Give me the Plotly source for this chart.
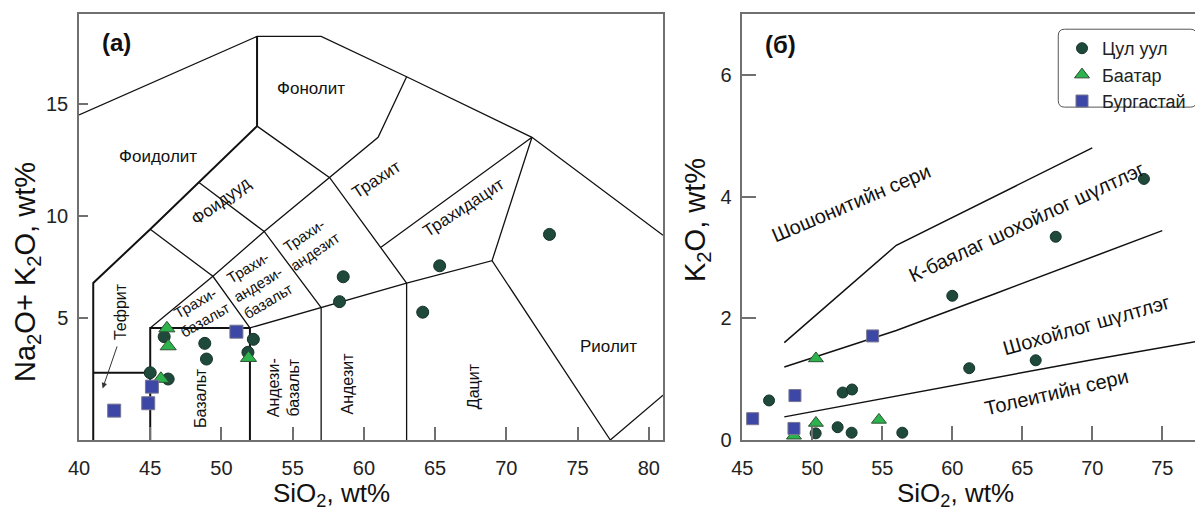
import plotly.graph_objects as go

FONT = "Liberation Sans, Arial, sans-serif"

# ---------------- data: panel (a) TAS ----------------
tas_cul_x = [45.98, 48.83, 48.95, 45.0, 46.26, 52.24, 51.86, 58.55, 58.29, 65.32, 64.13, 73.03]
tas_cul_y = [4.61, 4.31, 3.61, 3.0, 2.72, 4.49, 3.91, 7.28, 6.17, 7.77, 5.70, 9.17]
tas_baa_x = [46.17, 46.26, 45.75, 51.9]
tas_baa_y = [4.98, 4.18, 2.73, 3.66]
tas_bur_x = [42.47, 44.86, 45.12, 51.05]
tas_bur_y = [1.31, 1.64, 2.38, 4.83]

# ---------------- data: panel (б) K2O ----------------
k_cul_x = [46.91, 50.24, 51.81, 52.17, 52.84, 52.81, 56.43, 60.0, 61.21, 65.96, 67.39, 73.69]
k_cul_y = [0.65, 0.11, 0.21, 0.78, 0.83, 0.12, 0.12, 2.37, 1.18, 1.31, 3.34, 4.29]
k_baa_x = [48.69, 50.26, 50.26, 54.76]
k_baa_y = [0.07, 1.34, 0.28, 0.33]
k_bur_x = [45.74, 48.76, 48.69, 54.31]
k_bur_y = [0.35, 0.73, 0.19, 1.71]

series_names = ["Цул уул", "Баатар", "Бургастай"]

# TAS field boundaries (SiO2, Na2O+K2O)
tas_thick = [
    [(41, 0), (41, 7), (45, 9.4), (48.4, 11.5), (52.5, 14), (52.5, 18)],
    [(41, 3), (45, 3)],
    [(45, 0), (45, 5), (52, 5), (52, 0)],
]
tas_thin = [
    [(40, 14.5), (52.5, 18), (57, 18), (63, 16.2), (71.8, 13.5), (81, 9.13)],
    [(45, 9.4), (49.4, 7.3), (52, 5)],
    [(45, 5), (49.4, 7.3), (53, 9.3), (57.6, 11.7), (61, 13.5), (63, 16.2)],
    [(48.4, 11.5), (53, 9.3), (57, 5.9)],
    [(52.5, 14), (57.6, 11.7), (63, 7)],
    [(52, 5), (57, 5.9), (63, 7), (69, 8), (77.3, 0), (81, 2.0)],
    [(57, 0), (57, 5.9)],
    [(63, 0), (63, 7)],
    [(61.2, 8.6), (71.8, 13.5), (69, 8)],
]
# K2O series boundaries
k_lines = [
    [(48, 1.6), (56, 3.2), (70, 4.8)],
    [(48, 1.2), (52, 1.5), (56, 1.8), (63, 2.4), (70, 3.0), (75, 3.44)],
    [(48, 0.38), (56, 0.72), (63, 1.02), (70, 1.32), (78, 1.64)],
]

# field labels (text, x, y, angle, font size)
tas_labels = [
    ("Фонолит", 56.26, 15.69, 0, 17),
    ("Фоидолит", 45.52, 12.64, 0, 17),
    ("Фоидууд", 49.95, 10.63, -36, 17),
    ("Трахит", 60.88, 11.64, -33, 17),
    ("Трахидацит", 67.0, 10.38, -33, 17),
    ("Трахи-<br>андезит", 56.2, 8.75, -34, 15),
    ("Трахи-<br>андези-<br>базальт", 52.6, 6.95, -31, 15),
    ("Трахи-<br>базальт", 48.5, 5.75, -30, 15),
    ("Риолит", 77.16, 4.16, 0, 17),
    ("Дацит", 67.7, 2.38, -90, 16),
    ("Андезит", 58.83, 2.53, -90, 16),
    ("Андези-<br>базальт", 54.39, 2.35, -90, 16),
    ("Базальт", 48.55, 1.86, -90, 16),
    ("Тефрит", 42.9, 5.72, -90, 16),
]
k_labels = [
    ("Шошонитийн сери", 52.8, 3.89, -23),
    ("К-баялаг шохойлог шүлтлэг", 65.3, 3.58, -25),
    ("Шохойлог шүлтлэг", 69.6, 1.89, -16),
    ("Толеитийн сери", 67.46, 0.79, -13),
]

C_CUL = "#1f4a3b"
C_BAA = "#2db34c"
C_BUR = "#3d47a6"
AX = "#707070"

fig = go.Figure()


def poly_xy(polys):
    xs, ys = [], []
    for p in polys:
        for x, y in p:
            xs.append(x)
            ys.append(y)
        xs.append(None)
        ys.append(None)
    return xs, ys


x, y = poly_xy(tas_thin)
fig.add_trace(go.Scatter(x=x, y=y, mode="lines", line=dict(color="#111", width=1.3),
                         showlegend=False, hoverinfo="skip", xaxis="x", yaxis="y"))
x, y = poly_xy(tas_thick)
fig.add_trace(go.Scatter(x=x, y=y, mode="lines", line=dict(color="#111", width=2),
                         showlegend=False, hoverinfo="skip", xaxis="x", yaxis="y"))
x, y = poly_xy(k_lines)
fig.add_trace(go.Scatter(x=x, y=y, mode="lines", line=dict(color="#111", width=1.5),
                         showlegend=False, hoverinfo="skip", xaxis="x2", yaxis="y2"))

styles = [
    dict(symbol="circle", color=C_CUL, size=12, line=dict(color="#143328", width=1)),
    dict(symbol="triangle-up", color=C_BAA, size=14, line=dict(color="#2f4f35", width=1)),
    dict(symbol="square", color=C_BUR, size=13, line=dict(color="#777790", width=1)),
]
tas_sets = [(tas_cul_x, tas_cul_y), (tas_baa_x, tas_baa_y), (tas_bur_x, tas_bur_y)]
k_sets = [(k_cul_x, k_cul_y), (k_baa_x, k_baa_y), (k_bur_x, k_bur_y)]

for name, st, (xa, ya) in zip(series_names, styles, tas_sets):
    fig.add_trace(go.Scatter(x=xa, y=ya, mode="markers", name=name, marker=st,
                             showlegend=False, legendgroup=name, cliponaxis=False,
                             xaxis="x", yaxis="y"))
for name, st, (xa, ya) in zip(series_names, styles, k_sets):
    st2 = dict(st)
    st2["size"] = st["size"] - 1
    fig.add_trace(go.Scatter(x=xa, y=ya, mode="markers", name=name, marker=st2,
                             showlegend=True, legendgroup=name, cliponaxis=False,
                             xaxis="x2", yaxis="y2"))

CM = dict(xanchor="center", yanchor="middle", showarrow=False)
ann = []
for t, xx, yy, a, fs in tas_labels:
    ann.append(dict(text=t, x=xx, y=yy, xref="x", yref="y", textangle=a,
                    font=dict(family=FONT, size=fs, color="#111"), **CM))
for t, xx, yy, a in k_labels:
    ann.append(dict(text=t, x=xx, y=yy, xref="x2", yref="y2", textangle=a,
                    font=dict(family=FONT, size=20, color="#111"), **CM))
# Tefrit arrow
ann.append(dict(text="", x=41.66, y=2.3, ax=42.71, ay=4.24, xref="x", yref="y",
                axref="x", ayref="y", showarrow=True, arrowhead=2, arrowsize=1.1,
                arrowwidth=1, arrowcolor="#333"))
# panel letters
ann.append(dict(text="<b>(a)</b>", x=42.6, y=17.75, xref="x", yref="y",
                font=dict(family=FONT, size=24, color="#111"), **CM))
ann.append(dict(text="<b>(б)</b>", x=47.7, y=6.5, xref="x2", yref="y2",
                font=dict(family=FONT, size=24, color="#111"), **CM))
# axis titles
ann.append(dict(text="SiO<sub>2</sub>, wt%", x=0.2711, y=-0.1291, xref="paper", yref="paper",
                font=dict(family=FONT, size=26, color="#111"), **CM))
ann.append(dict(text="SiO<sub>2</sub>, wt%", x=0.7925, y=-0.1291, xref="paper", yref="paper",
                font=dict(family=FONT, size=26, color="#111"), **CM))
ann.append(dict(text="Na<sub>2</sub>O+ K<sub>2</sub>O, wt%", x=0.0159, y=0.3944, xref="paper",
                yref="paper", textangle=-90,
                font=dict(family=FONT, size=29, color="#111"), **CM))
ann.append(dict(text="K<sub>2</sub>O, wt%", x=0.5766, y=0.5164, xref="paper", yref="paper",
                textangle=-90, font=dict(family=FONT, size=29, color="#111"), **CM))

# rounded legend frame (in panel б data units)
lx0, lx1, ly0, ly1 = 67.57, 77.46, 5.47, 6.75
rx, ry = 0.45, 0.11
path = (f"M {lx0+rx},{ly1} L {lx1-rx},{ly1} Q {lx1},{ly1} {lx1},{ly1-ry} "
        f"L {lx1},{ly0+ry} Q {lx1},{ly0} {lx1-rx},{ly0} L {lx0+rx},{ly0} "
        f"Q {lx0},{ly0} {lx0},{ly0+ry} L {lx0},{ly1-ry} Q {lx0},{ly1} {lx0+rx},{ly1} Z")

W = 1195.0
axis_common = dict(showgrid=False, zeroline=False, showline=True, linecolor=AX, linewidth=1.5,
                   ticks="inside", tickcolor=AX, tickwidth=1.5, automargin=False,
                   tickfont=dict(family=FONT, size=20, color="#222"))

fig.update_layout(
    width=1195, height=509,
    margin=dict(l=0, r=0, t=6, b=77, autoexpand=False),
    paper_bgcolor="white", plot_bgcolor="white",
    font=dict(family=FONT),
    xaxis=dict(domain=[71 / W, 655 / W], range=[40, 81], tickvals=[40, 45, 50, 55, 60, 65, 70, 75, 80],
               mirror=True, ticklen=13, ticklabelstandoff=9, **axis_common),
    yaxis=dict(domain=[0, 1], range=[0, 19], tickvals=[5.45, 10, 15], ticktext=["5", "10", "15"],
               mirror=True, ticklen=9, ticklabelstandoff=5, **axis_common),
    xaxis2=dict(domain=[734.3 / W, 1.0], range=[45, 77.91], tickvals=[45, 50, 55, 60, 65, 70, 75],
                mirror=True, ticklen=14, ticklabelstandoff=9, anchor="y2", **axis_common),
    yaxis2=dict(domain=[0, 1], range=[0, 7], tickvals=[0, 2, 4, 6], anchor="x2",
                ticklen=14, ticklabelstandoff=5, **axis_common),
    annotations=ann,
    shapes=[dict(type="path", path=path, xref="x2", yref="y2",
                 line=dict(color="#555", width=1), fillcolor="white", layer="below")],
    legend=dict(x=1054 / W, y=0.9624, xanchor="left", yanchor="top",
                bgcolor="rgba(0,0,0,0)", borderwidth=0, tracegroupgap=0,
                font=dict(family=FONT, size=18, color="#222")),
)

fig.write_html("out.html")
